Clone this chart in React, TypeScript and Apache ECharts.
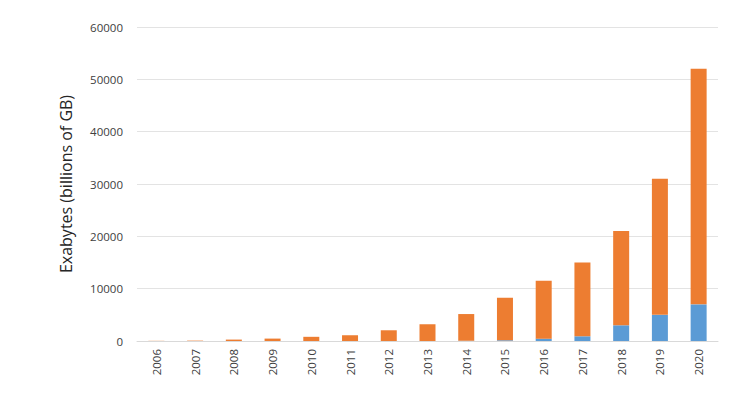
import React, { useEffect, useRef } from "react";
import * as echarts from "echarts";

const years = ["2006","2007","2008","2009","2010","2011","2012","2013","2014","2015","2016","2017","2018","2019","2020"];
const blueValues = [0, 0, 0, 0, 0, 0, 0, 0, 50, 150, 450, 900, 3000, 5000, 7000];
const orangeValues = [30, 70, 270, 460, 800, 1100, 2050, 3200, 5100, 8100, 11050, 14100, 18000, 26000, 45000];
const yTicks = [0, 10000, 20000, 30000, 40000, 50000, 60000];

export default function App() {
  const ref = useRef<HTMLDivElement>(null);
  useEffect(() => {
    if (!ref.current) return;
    const chart = echarts.init(ref.current, null, { renderer: "svg" });
    const font = "'Open Sans', Lato, sans-serif";
    chart.setOption({
      animation: false,
      backgroundColor: "#ffffff",
      grid: { left: 137, right: 32, top: 27, bottom: 53 },
      xAxis: {
        type: "category",
        data: years,
        axisLine: { show: true, lineStyle: { color: "#d9d9d9" } },
        axisTick: { show: false },
        axisLabel: { rotate: 90, color: "#404040", fontSize: 11.5, fontFamily: font, margin: 8 },
      },
      yAxis: {
        type: "value",
        min: yTicks[0],
        max: yTicks[yTicks.length - 1],
        interval: 10000,
        name: "Exabytes (billions of GB)",
        nameLocation: "middle",
        nameGap: 63,
        nameTextStyle: { color: "#262626", fontSize: 16, fontFamily: font },
        axisLine: { show: false },
        axisTick: { show: false },
        axisLabel: {
          color: "#404040",
          fontSize: 11.5,
          fontFamily: font,
          margin: 14,
          formatter: (v: number) => String(v),
        },
        splitLine: { lineStyle: { color: "#e3e3e3" } },
      },
      series: [
        {
          type: "bar",
          stack: "total",
          data: blueValues,
          barWidth: 16,
          itemStyle: { color: "#5b9bd5" },
        },
        {
          type: "bar",
          stack: "total",
          data: orangeValues,
          barWidth: 16,
          itemStyle: { color: "#ed7d31" },
        },
      ],
    });
    return () => chart.dispose();
  }, []);
  return <div ref={ref} style={{ width: 750, height: 394, position: "absolute", left: 0, top: 0 }} />;
}
